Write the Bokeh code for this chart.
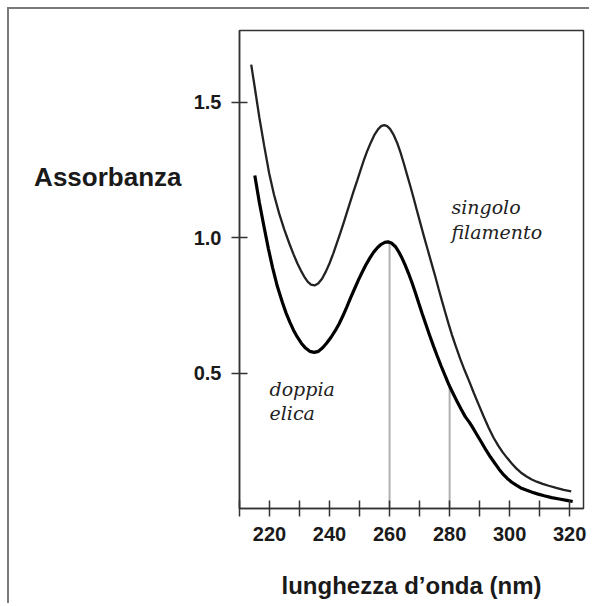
from bokeh.plotting import figure
from bokeh.models import Range1d, FixedTicker, Label, LinearAxis
from bokeh.embed import file_html
from bokeh.resources import INLINE

# --- data ---
single_nm = [213.9, 215.0, 216.6, 218.2, 219.9, 221.5, 223.2, 224.9, 226.6, 228.0,
             229.3, 230.5, 231.6, 232.7, 233.8, 235.0, 236.2, 237.5, 238.8, 240.0,
             241.2, 242.4, 243.6, 244.8, 246.0, 247.0, 248.0, 249.2, 250.3, 251.4,
             252.5, 253.8, 255.0, 256.2, 257.2, 258.2, 259.2, 260.2, 261.3, 262.5,
             263.6, 264.7, 265.8, 266.9, 268.0, 269.1, 270.2, 271.3, 272.7, 274.1,
             275.2, 276.3, 277.4, 278.5, 279.6, 280.8, 282.1, 283.5, 285.0, 286.5,
             288.0, 289.5, 291.2, 293.0, 294.6, 296.2, 297.7, 299.2, 300.7, 302.2,
             303.7, 305.5, 307.2, 309.0, 311.0, 313.0, 315.5, 318.0, 320.5]
single_abs = [1.638, 1.560, 1.444, 1.340, 1.236, 1.158, 1.089, 1.030, 0.978, 0.938,
              0.904, 0.877, 0.855, 0.837, 0.826, 0.823, 0.830, 0.848, 0.875, 0.905,
              0.940, 0.978, 1.017, 1.058, 1.100, 1.135, 1.170, 1.210, 1.248, 1.285,
              1.318, 1.352, 1.380, 1.400, 1.411, 1.415, 1.411, 1.400, 1.380, 1.350,
              1.315, 1.275, 1.232, 1.190, 1.146, 1.100, 1.055, 1.010, 0.955, 0.900,
              0.857, 0.812, 0.768, 0.725, 0.683, 0.640, 0.597, 0.553, 0.510, 0.470,
              0.428, 0.388, 0.343, 0.298, 0.262, 0.232, 0.207, 0.186, 0.166, 0.148,
              0.133, 0.119, 0.108, 0.099, 0.091, 0.084, 0.076, 0.069, 0.063]

double_nm = [215.1, 216.6, 218.2, 219.6, 221.0, 222.6, 224.3, 225.5, 226.8, 228.0,
             229.3, 230.6, 232.0, 233.4, 234.9, 236.3, 237.7, 239.0, 240.5, 241.9,
             243.2, 244.5, 245.8, 247.0, 248.3, 249.6, 250.9, 252.2, 253.5, 254.7,
             256.0, 257.2, 258.4, 259.5, 260.6, 261.9, 263.0, 264.1, 265.2, 266.3,
             267.5, 268.6, 269.7, 270.9, 272.1, 273.3, 274.6, 275.9, 277.2, 278.5,
             279.7, 281.0, 282.4, 283.8, 285.2, 286.6, 287.5, 288.9, 290.4, 292.1,
             293.6, 295.0, 296.4, 297.7, 299.2, 300.7, 302.2, 303.7, 305.5, 307.5,
             309.5, 311.5, 314.0, 316.5, 319.0, 321.0]
double_abs = [1.229, 1.130, 1.038, 0.960, 0.890, 0.820, 0.760, 0.722, 0.687, 0.658,
              0.632, 0.610, 0.592, 0.580, 0.576, 0.580, 0.593, 0.610, 0.632, 0.656,
              0.682, 0.712, 0.745, 0.777, 0.810, 0.843, 0.873, 0.901, 0.926, 0.946,
              0.963, 0.975, 0.982, 0.984, 0.980, 0.967, 0.948, 0.925, 0.898, 0.868,
              0.832, 0.796, 0.758, 0.718, 0.679, 0.640, 0.600, 0.562, 0.525, 0.490,
              0.458, 0.428, 0.397, 0.367, 0.339, 0.318, 0.302, 0.276, 0.248, 0.216,
              0.190, 0.168, 0.146, 0.128, 0.111, 0.097, 0.086, 0.076, 0.068, 0.060,
              0.053, 0.047, 0.040, 0.035, 0.030, 0.026]

marker_nm = [260, 280]
marker_top = [0.984, 0.46]

x_ticks = [220, 240, 260, 280, 300, 320]
x_minor = [210, 230, 250, 270, 290, 310]
y_ticks = [0.5, 1.0, 1.5]
y_labels = ["0.5", "1.0", "1.5"]

y_title = "Assorbanza"
y_title_pos = 1.225
x_title = "lunghezza d\u2019onda (nm)"

single_label = ["singolo", "filamento"]
single_label_pos = [(280.6, 1.111), (280.6, 1.022)]
double_label = ["doppia", "elica"]
double_label_pos = [(220.0, 0.440), (220.0, 0.354)]

p = figure(width=582, height=596, output_backend="svg", toolbar_location=None,
           x_range=Range1d(210, 324.6), y_range=Range1d(0, 1.764),
           min_border_left=230, min_border_top=21, min_border_right=8,
           min_border_bottom=97)
p.margin = (9, 0, 0, 9)
p.styles = {"box-shadow": "-2px -2px 0 0 #7a7a7a"}
p.background_fill_color = "white"
p.border_fill_color = "white"
p.outline_line_color = "#333333"
p.outline_line_width = 1.5
p.xgrid.visible = False
p.ygrid.visible = False

font = "Liberation Sans"
ink = "#1a1a1a"

xa = p.xaxis[0]
xa.ticker = FixedTicker(ticks=x_ticks, minor_ticks=x_minor)
xa.major_tick_in = 8
xa.major_tick_out = 8
xa.minor_tick_in = 8
xa.minor_tick_out = 8
xa.major_tick_line_color = "#333333"
xa.minor_tick_line_color = "#333333"
xa.major_tick_line_width = 1.5
xa.minor_tick_line_width = 1.5
xa.axis_line_color = "#333333"
xa.axis_line_width = 1.5
xa.major_label_text_font = font
xa.major_label_text_font_style = "bold"
xa.major_label_text_font_size = "20px"
xa.major_label_text_color = ink
xa.major_label_standoff = 10
xa.axis_label = x_title
xa.axis_label_text_font = font
xa.axis_label_text_font_style = "bold"
xa.axis_label_text_font_size = "24px"
xa.axis_label_text_color = ink
xa.axis_label_standoff = 28

ya = p.yaxis[0]
ya.ticker = FixedTicker(ticks=y_ticks, minor_ticks=[])
ya.major_label_overrides = {t: l for t, l in zip(y_ticks, y_labels)}
ya.major_tick_in = 8
ya.major_tick_out = 8
ya.major_tick_line_color = "#333333"
ya.major_tick_line_width = 1.5
ya.axis_line_color = "#333333"
ya.axis_line_width = 1.5
ya.major_label_text_font = font
ya.major_label_text_font_style = "bold"
ya.major_label_text_font_size = "20px"
ya.major_label_text_color = ink
ya.major_label_standoff = 10

# horizontal y title, drawn as the label of an outer, line-less axis
ta = LinearAxis(ticker=FixedTicker(ticks=[y_title_pos], minor_ticks=[]),
                major_label_overrides={y_title_pos: y_title},
                axis_line_color=None, major_tick_line_color=None,
                minor_tick_line_color=None, major_tick_in=0, major_tick_out=0,
                major_label_standoff=9, major_label_text_font=font,
                major_label_text_font_style="bold",
                major_label_text_font_size="26px", major_label_text_color=ink)
p.add_layout(ta, "left")

# vertical marker lines
p.segment(x0=marker_nm, y0=[0, 0], x1=marker_nm, y1=marker_top,
          line_color="#b0b0b0", line_width=2)

# curves
p.line(single_nm, single_abs, line_color="#222222", line_width=2.3)
p.line(double_nm, double_abs, line_color="#000000", line_width=3.2)

# curve labels
for t, (x, y) in zip(single_label, single_label_pos):
    p.add_layout(Label(x=x, y=y, text=t, text_font="DejaVu Serif",
                       text_font_style="italic", text_font_size="19px",
                       text_color="#222222", text_baseline="alphabetic"))
for t, (x, y) in zip(double_label, double_label_pos):
    p.add_layout(Label(x=x, y=y, text=t, text_font="DejaVu Serif",
                       text_font_style="italic", text_font_size="19px",
                       text_color="#222222", text_baseline="alphabetic"))

open("out.html", "w").write(file_html(p, INLINE))
